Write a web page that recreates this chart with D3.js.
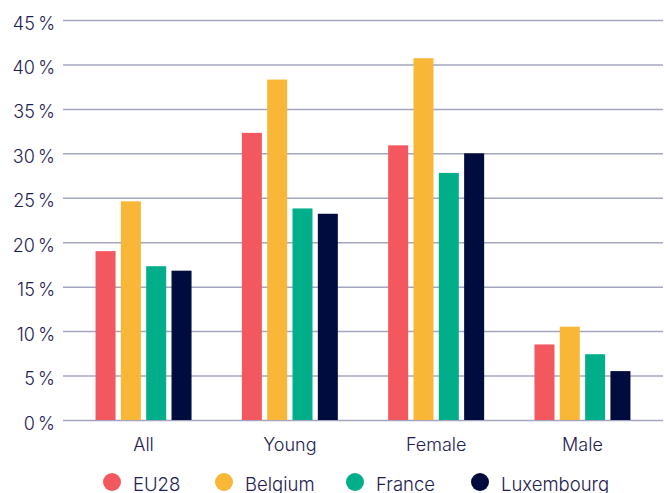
<!DOCTYPE html>
<html>
<head>
<meta charset="utf-8">
<script src="https://cdn.jsdelivr.net/npm/d3@7"></script>
<style>
  html, body { margin: 0; padding: 0; background: #ffffff; }
  svg { display: block; }
  text { font-family: "Inter", "Lato", sans-serif; font-weight: 300; fill: #1c2050; }
</style>
</head>
<body>
<svg id="chart" width="668" height="493"></svg>
<script>
// Groups along the x axis
const categories = ["All", "Young", "Female", "Male"];
// Series (countries) and their shares, in percent
const seriesNames = ["EU28", "Belgium", "France", "Luxembourg"];
const eu28 = [19.0, 32.3, 30.9, 8.5];
const belgium = [24.6, 38.3, 40.7, 10.5];
const france = [17.3, 23.8, 27.8, 7.4];
const luxembourg = [16.8, 23.2, 30.0, 5.5];
const seriesColors = ["#f2585e", "#f8b736", "#00af8a", "#000c3e"];
// Y axis ticks
const yTicks = [0, 5, 10, 15, 20, 25, 30, 35, 40, 45];

const seriesValues = [eu28, belgium, france, luxembourg];
const rows = categories.map((c, i) => ({
  category: c,
  values: seriesNames.map((s, j) => ({ series: s, value: seriesValues[j][i] }))
}));

const svg = d3.select("#chart");
const plotLeft = 63, plotRight = 663, plotTop = 20, plotBottom = 420;

const y = d3.scaleLinear().domain([0, 45]).range([plotBottom, plotTop]);
const x0 = d3.scaleBand().domain(categories).range([plotLeft, plotRight])
  .paddingInner(0.344).paddingOuter(0.2225);
const x1 = d3.scaleBand().domain(seriesNames).range([0, x0.bandwidth()])
  .paddingInner(0.21).paddingOuter(0);
const color = d3.scaleOrdinal().domain(seriesNames).range(seriesColors);

// Horizontal grid lines with percentage labels
const yAxis = d3.axisLeft(y)
  .tickValues(yTicks)
  .tickSize(-(plotRight - plotLeft))
  .tickPadding(8)
  .tickFormat(d => d + "\u2009%");
const gy = svg.append("g").attr("transform", `translate(${plotLeft},0)`).call(yAxis);
gy.select(".domain").remove();
gy.selectAll(".tick line").attr("stroke", "#a4a6bf").attr("stroke-width", 1.5);
gy.selectAll(".tick text")
  .attr("x", -8)
  .attr("dy", "0.5em")
  .style("font-size", "18px")
  .style("fill", "#1c2050");

// Bars
const groups = svg.append("g").selectAll("g")
  .data(rows)
  .join("g")
  .attr("transform", d => `translate(${x0(d.category)},0)`);
groups.selectAll("rect")
  .data(d => d.values)
  .join("rect")
  .attr("x", d => x1(d.series))
  .attr("width", x1.bandwidth())
  .attr("y", d => y(d.value))
  .attr("height", d => y(0) - y(d.value))
  .attr("fill", d => color(d.series));

// Category labels
const xAxis = d3.axisBottom(x0).tickSize(0).tickPadding(18);
const gx = svg.append("g").attr("transform", `translate(0,${plotBottom})`).call(xAxis);
gx.select(".domain").remove();
gx.selectAll(".tick text")
  .style("font-size", "18px")
  .style("fill", "#1c2050");

// Legend
const legendX = [112, 224, 355, 480];
const legend = svg.append("g").selectAll("g")
  .data(seriesNames)
  .join("g")
  .attr("transform", (d, i) => `translate(${legendX[i]},482)`);
legend.append("circle").attr("r", 9).attr("fill", d => color(d));
legend.append("text")
  .attr("x", 21)
  .attr("dy", "0.5em")
  .style("font-size", "18.5px")
  .text(d => d);
</script>
</body>
</html>
